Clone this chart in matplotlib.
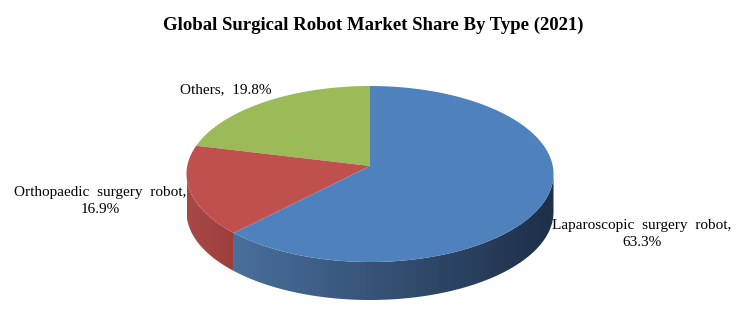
import numpy as np
import matplotlib.pyplot as plt
from matplotlib.patches import Polygon
from matplotlib.colors import to_rgb

# data
labels = ['Others', 'Orthopaedic surgery robot', 'Laparoscopic surgery robot']
shares = [19.8, 16.9, 63.3]
top_colors = ['#9bbb59', '#c0504d', '#4f81bd']
side_colors = [('#7d9a45', '#6f8a3c'), ('#a84945', '#9c3f3b'), ('#4a6f9c', '#1e2f48')]
label_text = ['Others,  19.8%', 'Orthopaedic  surgery  robot,\n16.9%', 'Laparoscopic  surgery  robot,\n63.3%']
label_pos = [(226, 90), (100, 201), (642, 234)]

title = 'Global Surgical Robot Market Share By Type (2021)'

# pie geometry (pixel space)
cx, cy = 370, 174
a, b = 183.5, 88
thick = 38
vx, vy = 370, 166  # where the slices meet (perspective)
start = 90.0

plt.rcParams['font.family'] = ['Liberation Serif', 'DejaVu Serif']

fig = plt.figure(figsize=(7.49, 3.19), dpi=100)
ax = fig.add_axes([0, 0, 1, 1])
ax.set_xlim(0, 749)
ax.set_ylim(319, 0)
ax.axis('off')


def rim(t):
    t = np.radians(t)
    return cx + a * np.cos(t), cy - b * np.sin(t)


angles = [start]
for s in shares:
    angles.append(angles[-1] + s / 100 * 360)

# side faces (front half only)
for i in range(len(shares)):
    t0, t1 = angles[i], angles[i + 1]
    segs = []
    for k in (0, 360):
        lo, hi = max(t0, 180 + k), min(t1, 360 + k)
        if lo < hi:
            segs.append((lo, hi))
    for lo, hi in segs:
        ts = np.linspace(lo, hi, 120)
        xs, ys = rim(ts)
        pts = np.concatenate([np.column_stack([xs, ys]),
                              np.column_stack([xs[::-1], ys[::-1] + thick])])
        poly = Polygon(pts, closed=True, facecolor='none', edgecolor='none')
        ax.add_patch(poly)
        x0, x1 = xs.min(), xs.max()
        c0, c1 = np.array(to_rgb(side_colors[i][0])), np.array(to_rgb(side_colors[i][1]))
        f = np.linspace(0, 1, 200)[None, :, None]
        grad = c0 + (c1 - c0) * f
        im = ax.imshow(grad, extent=[x0, x1, ys.max() + thick + 2, ys.min() - 2],
                       aspect='auto', zorder=2, interpolation='bilinear')
        im.set_clip_path(poly)

# top faces
for i in range(len(shares)):
    ts = np.linspace(angles[i], angles[i + 1], 200)
    xs, ys = rim(ts)
    pts = np.vstack([[vx, vy], np.column_stack([xs, ys])])
    ax.add_patch(Polygon(pts, closed=True, facecolor=top_colors[i],
                         edgecolor='none', zorder=3))

for txt, (x, y) in zip(label_text, label_pos):
    ax.text(x, y, txt, ha='center', va='center', fontsize=11,
            linespacing=1.45, zorder=4)

ax.text(373, 25, title, ha='center', va='center', fontsize=13.5,
        fontweight='bold')

fig.savefig('out.png', dpi=100)
